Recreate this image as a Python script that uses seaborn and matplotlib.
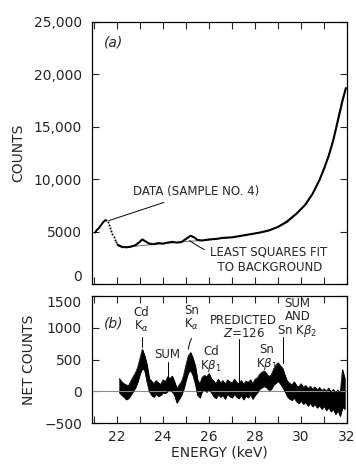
import numpy as np
import pandas as pd
import matplotlib.pyplot as plt
import seaborn as sns
from matplotlib.ticker import MultipleLocator, FuncFormatter

sns.set_style("ticks")
plt.rcParams["font.family"] = ["DejaVu Sans"]
plt.rcParams["font.size"] = 10

# --- (a) raw spectrum ---
start_e = [21.05, 21.12, 21.2, 21.3, 21.4, 21.5, 21.55]
start_counts = [4900, 5150, 5300, 5600, 5900, 6100, 6050]
dots_e = [21.6, 21.65, 21.7, 21.75, 21.8, 21.85, 21.9, 21.95, 22.0, 22.05]
dots_counts = [5900, 5650, 5350, 5050, 4750, 4450, 4200, 3980, 3820, 3720]
data_e = [22.05, 22.2, 22.4, 22.6, 22.8, 22.95, 23.1, 23.25, 23.4, 23.6, 23.8,
          24.0, 24.2, 24.4, 24.6, 24.8, 25.0, 25.2, 25.35, 25.5, 25.7, 26.0,
          26.3, 26.6, 27.0, 27.4, 27.8, 28.2, 28.6, 29.0, 29.4, 29.8, 30.2,
          30.5, 30.8, 31.0, 31.2, 31.4, 31.6, 31.8, 31.95]
data_counts = [3720, 3550, 3500, 3560, 3700, 3950, 4250, 4050, 3850, 3800, 3900,
               3850, 3950, 4020, 3950, 4000, 4300, 4600, 4450, 4200, 4150, 4250,
               4300, 4400, 4450, 4600, 4750, 4900, 5100, 5450, 5950, 6700, 7600,
               8600, 9900, 11000, 12200, 13700, 15600, 17500, 18700]
fit_e = [22.2, 23.0, 24.0, 25.0, 26.0, 27.0, 28.0, 29.0, 30.0, 30.5, 31.0, 31.5, 31.95]
fit_counts = [3450, 3650, 3850, 4050, 4200, 4450, 4800, 5400, 7100, 8600, 10900, 14500, 18600]

# --- (b) net counts, noise band read as lower/upper envelope ---
net_e = [22.1, 22.2, 22.3, 22.4, 22.5, 22.6, 22.7, 22.8, 22.9, 23.0,
         23.1, 23.2, 23.3, 23.4, 23.5, 23.6, 23.7, 23.8, 23.9, 24.0,
         24.1, 24.2, 24.3, 24.4, 24.5, 24.6, 24.7, 24.8, 24.9, 25.0,
         25.1, 25.2, 25.3, 25.4, 25.5, 25.6, 25.7, 25.8, 25.9, 26.0,
         26.1, 26.2, 26.3, 26.4, 26.5, 26.6, 26.7, 26.8, 26.9, 27.0,
         27.1, 27.2, 27.3, 27.4, 27.5, 27.6, 27.7, 27.8, 27.9, 28.0,
         28.1, 28.2, 28.3, 28.4, 28.5, 28.6, 28.7, 28.8, 28.9, 29.0,
         29.1, 29.2, 29.3, 29.4, 29.5, 29.6, 29.7, 29.8, 29.9, 30.0,
         30.1, 30.2, 30.3, 30.4, 30.5, 30.6, 30.7, 30.8, 30.9, 31.0,
         31.1, 31.2, 31.3, 31.4, 31.5, 31.6, 31.7, 31.8, 31.9]
net_upper = [200, 150, 120, 100, 90, 160, 230, 290, 380, 520,
             660, 560, 420, 200, 160, 120, 170, 130, 110, 180,
             150, 230, 200, 240, 150, 40, 100, 150, 260, 420,
             560, 610, 520, 400, 180, 120, 220, 250, 230, 280,
             200, 160, 120, 190, 130, 170, 110, 180, 150, 130,
             190, 140, 120, 170, 110, 160, 140, 180, 120, 190,
             210, 270, 300, 320, 280, 230, 260, 340, 410, 450,
             400, 360, 250, 160, 130, 100, 150, 90, 70, 120,
             60, 90, 40, 80, 30, 70, 20, 60, 10, 40,
             0, 50, -10, 30, -20, 20, -30, 340, 200]
net_lower = [-20, -60, -90, -130, -110, -60, 0, 60, 150, 280,
             360, 330, 150, 0, -60, -90, -40, -80, -60, -20,
             -30, 0, 20, -10, -60, -180, -120, -60, 40, 180,
             300, 330, 250, 120, -60, -100, 0, 20, -10, 30,
             -20, -80, -110, -50, -90, -60, -120, -40, -80, -100,
             -40, -90, -110, -60, -130, -70, -100, -50, -120, -60,
             -20, 40, 60, 80, 60, 20, 30, 100, 130, 160,
             120, 60, 0, -80, -120, -140, -100, -160, -190, -150,
             -200, -170, -230, -180, -240, -200, -260, -220, -280, -230,
             -300, -250, -320, -280, -360, -300, -390, -250, -280]

df_start = pd.DataFrame({"E": start_e, "C": start_counts})
df_dots = pd.DataFrame({"E": dots_e, "C": dots_counts})
df_data = pd.DataFrame({"E": data_e, "C": data_counts})
df_fit = pd.DataFrame({"E": fit_e, "C": fit_counts})
df_net = pd.DataFrame({"E": net_e, "lo": net_lower, "hi": net_upper})

fig = plt.figure(figsize=(3.56, 4.67), dpi=100)
ax1 = fig.add_axes([0.2576, 0.3919, 0.7172, 0.5610])
ax2 = fig.add_axes([0.2576, 0.0942, 0.7172, 0.2719])

# panel (a)
sns.lineplot(data=df_fit, x="E", y="C", ax=ax1, color="0.45", lw=0.7)
sns.lineplot(data=df_start, x="E", y="C", ax=ax1, color="black", lw=1.4)
sns.scatterplot(data=df_dots, x="E", y="C", ax=ax1, color="black", s=2, linewidth=0)
sns.lineplot(data=df_data, x="E", y="C", ax=ax1, color="black", lw=1.5)

ax1.set_xlim(20.9, 32)
ax1.set_ylim(0, 25000)
ax1.xaxis.set_major_locator(MultipleLocator(1))
ax1.set_xticklabels([])
ax1.yaxis.set_major_locator(MultipleLocator(5000))
ax1.yaxis.set_major_formatter(FuncFormatter(lambda v, p: f"{v:,.0f}" if v >= 10000 else f"{v:.0f}"))
ax1.set_xlabel("")
ax1.set_ylabel("COUNTS", labelpad=6)
ax1.text(21.45, 23000, "(a)", fontsize=10, style="italic", va="center")
ax1.annotate("DATA (SAMPLE NO. 4)", xy=(21.65, 6050), xytext=(22.7, 8800),
             fontsize=8.5, va="center",
             arrowprops=dict(arrowstyle="-", color="black", lw=0.7, shrinkB=0, shrinkA=2))
ax1.annotate("LEAST SQUARES FIT\n  TO BACKGROUND", xy=(25.15, 4150), xytext=(26.05, 2300),
             fontsize=8.5, va="center", linespacing=1.2,
             arrowprops=dict(arrowstyle="-", color="black", lw=0.7, shrinkB=0, shrinkA=2,
                             connectionstyle="arc3,rad=-0.2"))

# panel (b)
ax2.axhline(0, color="0.55", lw=0.8)
ax2.fill_between(df_net["E"], df_net["lo"], df_net["hi"], color="black", lw=0.6)
sns.lineplot(data=df_net, x="E", y="hi", ax=ax2, color="black", lw=0.5)
sns.lineplot(data=df_net, x="E", y="lo", ax=ax2, color="black", lw=0.5)

ax2.set_xlim(20.9, 32)
ax2.set_ylim(-500, 1500)
ax2.xaxis.set_major_locator(MultipleLocator(2))
ax2.xaxis.set_minor_locator(MultipleLocator(1))
ax2.yaxis.set_major_locator(MultipleLocator(500))
ax2.set_xlabel("ENERGY (keV)", labelpad=1)
ax2.set_ylabel("NET COUNTS", labelpad=6)
ax2.text(21.45, 1060, "(b)", fontsize=10, style="italic", va="center")

lab = dict(fontsize=8.5, ha="center", va="center", linespacing=1.0)
ax2.text(23.05, 1120, "Cd\nK$_\\alpha$", **lab)
ax2.plot([23.1, 23.1], [860, 700], color="black", lw=0.7)
ax2.text(24.2, 580, "SUM", **lab)
ax2.plot([24.2, 24.2], [460, 200], color="black", lw=0.7)
ax2.text(25.25, 1150, "Sn\nK$_\\alpha$", **lab)
ax2.annotate("", xy=(25.1, 620), xytext=(25.3, 870),
             arrowprops=dict(arrowstyle="-", color="black", lw=0.7,
                             connectionstyle="arc3,rad=0.15"))
ax2.text(26.1, 500, "Cd\nK$\\beta_1$", **lab)
ax2.text(27.5, 1010, "PREDICTED\n$Z$=126", **lab)
ax2.plot([27.3, 27.3], [820, 50], color="black", lw=0.7)
ax2.text(28.5, 530, "Sn\nK$\\beta_1$", **lab)
ax2.text(29.85, 1150, "SUM\nAND\nSn K$\\beta_2$", **lab)
ax2.plot([29.2, 29.2], [860, 450], color="black", lw=0.7)

for ax in (ax1, ax2):
    ax.tick_params(which="both", direction="in", top=True, right=True,
                   length=5, width=0.8, pad=7, labelsize=10)
    ax.tick_params(axis="x", pad=5)
    for s in ax.spines.values():
        s.set_linewidth(0.9)
        s.set_color("black")

# keep the shared "0" / "1500" labels apart, as in the original
fig.canvas.draw()
for t in ax1.yaxis.get_major_ticks():
    if abs(t.get_loc()) < 1e-6:
        t.label1.set_va("bottom")
for t in ax2.yaxis.get_major_ticks():
    if abs(t.get_loc() - 1500) < 1e-6:
        t.label1.set_va("top")

fig.savefig("out.png", dpi=100)
